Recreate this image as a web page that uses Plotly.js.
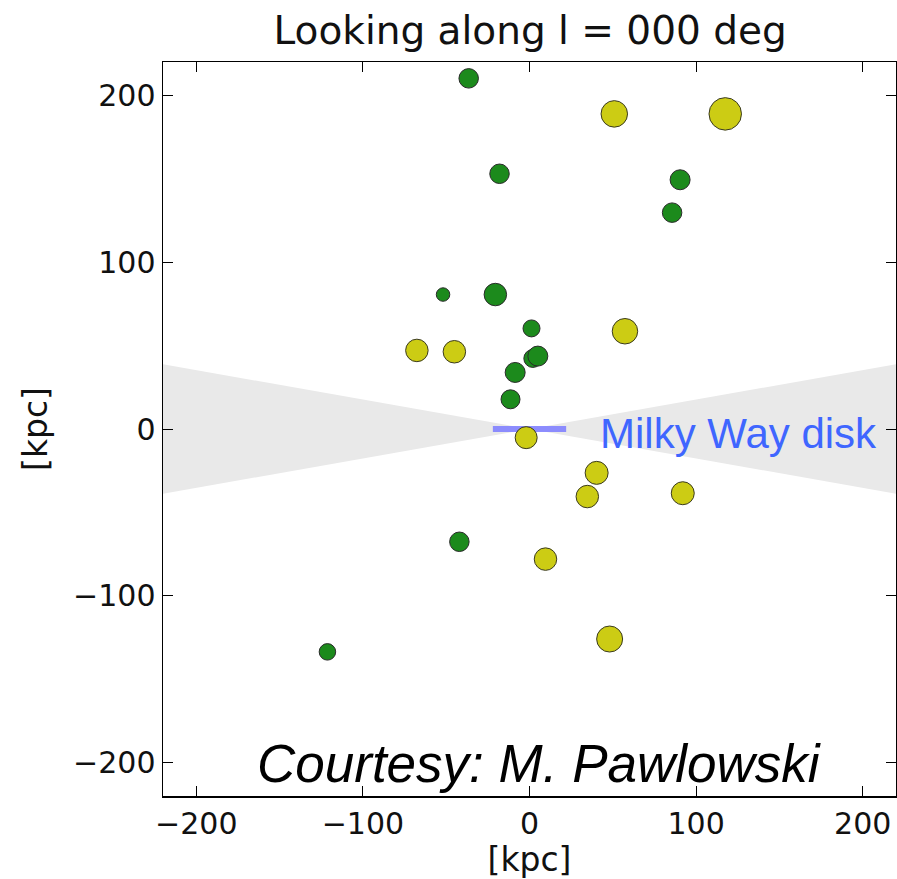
<!DOCTYPE html>
<html>
<head>
<meta charset="utf-8">
<script src="https://cdn.plot.ly/plotly-3.0.1.min.js"></script>
<style>html,body{margin:0;padding:0;background:#fff;}#plot{width:897px;height:879px;}</style>
</head>
<body>
<div id="plot"></div>
<script>
// Satellite positions [kpc]
var greenX = [-36.5, -18, -51.9, -20.5, 1.2, 2, 5, -8.6, -11.4, 90.4, 85.6, -42.1, -121.3];
var greenY = [210.2, 153, 80.6, 80.6, 60.3, 42.3, 43.7, 33.9, 17.8, 149.4, 129.7, -67.6, -133.6];
var greenSize = [19.5, 19.5, 13.5, 22.5, 17, 18, 20, 20, 19, 20, 19.5, 19.5, 16.5];

var yellowX = [-67.6, -45.1, -2, 50.9, 117.5, 57.3, 40.3, 34.7, 92, 9.6, 48.1];
var yellowY = [47.1, 46.3, -5.2, 188.9, 188.9, 58.6, -26.3, -40.5, -38.5, -78, -125.9];
var yellowSize = [22.5, 22.5, 22, 26.5, 32.5, 25.5, 23, 22.5, 23, 22.5, 26];

// Obscured wedge (±10 deg around the disk plane)
var wedgeLeftX = [-220, 0, -220];
var wedgeLeftY = [38.8, 0, -38.8];
var wedgeRightX = [220, 0, 220];
var wedgeRightY = [38.8, 0, -38.8];

// Milky Way disk
var diskX = [-22, 22];
var diskY = [0, 0];

var tickVals = [-200, -100, 0, 100, 200];
var tickText = ['\u2212200', '\u2212100', '0', '100', '200'];

var traces = [
  {x: wedgeLeftX, y: wedgeLeftY, type: 'scatter', mode: 'lines', fill: 'toself',
   fillcolor: '#e9e9e9', line: {width: 0, color: '#e9e9e9'}, hoverinfo: 'skip'},
  {x: wedgeRightX, y: wedgeRightY, type: 'scatter', mode: 'lines', fill: 'toself',
   fillcolor: '#e9e9e9', line: {width: 0, color: '#e9e9e9'}, hoverinfo: 'skip'},
  {x: diskX, y: diskY, type: 'scatter', mode: 'lines',
   line: {width: 6, color: 'rgba(130,130,255,0.9)'}},
  {x: greenX, y: greenY, type: 'scatter', mode: 'markers',
   marker: {size: greenSize, color: '#1c8a1c', opacity: 1, line: {width: 1, color: '#2a2a2a'}}},
  {x: yellowX, y: yellowY, type: 'scatter', mode: 'markers',
   marker: {size: yellowSize, color: '#cccc14', opacity: 1, line: {width: 1, color: '#3a3a20'}}}
];

var axisCommon = {
  range: [-220, 220],
  tickvals: tickVals,
  ticktext: tickText,
  ticks: 'inside',
  ticklen: 10,
  tickwidth: 1,
  tickcolor: '#000',
  showline: true,
  linecolor: '#000',
  linewidth: 1.5,
  mirror: 'ticks',
  showgrid: false,
  zeroline: false,
  tickfont: {family: 'DejaVu Sans', size: 30, color: '#111'}
};

var layout = {
  width: 897,
  height: 879,
  margin: {l: 163, r: 1, t: 62, b: 83},
  paper_bgcolor: '#fff',
  plot_bgcolor: '#fff',
  showlegend: false,
  title: {
    text: 'Looking along l = 000 deg',
    font: {family: 'DejaVu Sans', size: 39, color: '#111'},
    x: 0.591, xanchor: 'center',
    y: 1 - 30 / 879, yanchor: 'middle', yref: 'container'
  },
  xaxis: Object.assign({}, axisCommon, {
    title: {text: '[kpc]', font: {family: 'DejaVu Sans', size: 33, color: '#111'}, standoff: 6}
  }),
  yaxis: Object.assign({}, axisCommon, {
    title: {text: '[kpc]', font: {family: 'DejaVu Sans', size: 33, color: '#111'}, standoff: 15}
  }),
  annotations: [
    {x: 41.3, y: -2.4, xref: 'x', yref: 'y', xanchor: 'left', yanchor: 'middle',
     text: 'Milky Way disk', showarrow: false,
     font: {family: 'Liberation Sans', size: 42, color: '#3f66ff'}},
    {x: -165, y: -200.5, xref: 'x', yref: 'y', xanchor: 'left', yanchor: 'middle',
     text: '<i>Courtesy: M. Pawlowski</i>', showarrow: false,
     font: {family: 'Liberation Sans', size: 53, color: '#000'}}
  ]
};

Plotly.newPlot('plot', traces, layout, {displayModeBar: false, staticPlot: true});
</script>
</body>
</html>
